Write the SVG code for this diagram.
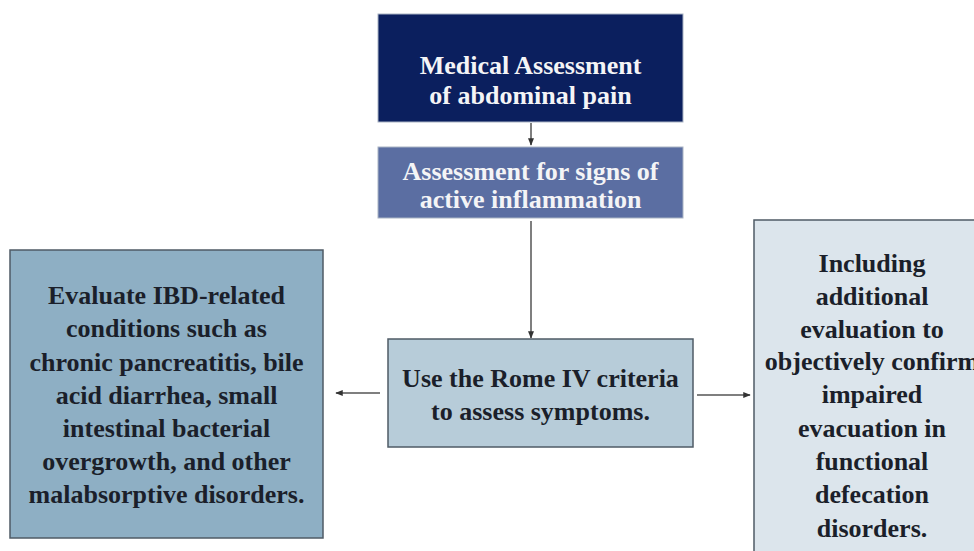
<svg xmlns="http://www.w3.org/2000/svg" width="974" height="551" viewBox="0 0 974 551">
<defs>
<style>
.t{font-family:"Liberation Serif","Times New Roman",serif;font-weight:bold;font-size:26px;text-anchor:middle}
.w{fill:#f4f4f6}
.d{fill:#1b1f2a}
.b{stroke:#4f5b66;stroke-width:1.5}
.c{stroke:#555;stroke-width:1.5;fill:none}
</style>
<marker id="ah" viewBox="0 0 10 10" refX="9" refY="5" markerWidth="5" markerHeight="5" orient="auto">
<path d="M0,1 L10,5 L0,9 Z" fill="#333"/>
</marker>
</defs>
<rect width="974" height="551" fill="#ffffff"/>
<g id="connectors">
<line class="c" x1="531" y1="123" x2="531" y2="145" marker-end="url(#ah)"/>
<line class="c" x1="531" y1="221" x2="531" y2="338" marker-end="url(#ah)"/>
<line class="c" x1="380" y1="393" x2="336" y2="393" marker-end="url(#ah)"/>
<line class="c" x1="697" y1="395" x2="750" y2="395" marker-end="url(#ah)"/>
</g>
<g id="medical">
<rect x="378" y="14" width="305" height="108" fill="#0b1f5e" stroke="#aab4c4" stroke-width="1"/>
<text class="t w" x="530.5" y="74">Medical Assessment</text>
<text class="t w" x="530.5" y="104">of abdominal pain</text>
</g>
<g id="inflammation">
<rect x="378" y="147" width="305" height="71" fill="#5b6ea2" stroke="#aab4c4" stroke-width="1"/>
<text class="t w" x="530.5" y="180">Assessment for signs of</text>
<text class="t w" x="530.5" y="208">active inflammation</text>
</g>
<g id="rome">
<rect class="b" x="388" y="339" width="305" height="108" fill="#b7ccd9"/>
<text class="t d" x="540.5" y="387">Use the Rome IV criteria</text>
<text class="t d" x="540.5" y="420">to assess symptoms.</text>
</g>
<g id="ibd">
<rect class="b" x="10" y="250" width="313" height="288" fill="#8eafc4"/>
<text class="t d" x="166.5" y="304">Evaluate IBD-related</text>
<text class="t d" x="166.5" y="337">conditions such as</text>
<text class="t d" x="166.5" y="371">chronic pancreatitis, bile</text>
<text class="t d" x="166.5" y="404">acid diarrhea, small</text>
<text class="t d" x="166.5" y="437">intestinal bacterial</text>
<text class="t d" x="166.5" y="470">overgrowth, and other</text>
<text class="t d" x="166.5" y="503">malabsorptive disorders.</text>
</g>
<g id="defecation">
<rect class="b" x="754" y="220" width="240" height="345" fill="#dce5ec"/>
<text class="t d" x="872" y="272">Including</text>
<text class="t d" x="872" y="305">additional</text>
<text class="t d" x="872" y="338">evaluation to</text>
<text class="t d" x="872" y="370">objectively confirm</text>
<text class="t d" x="872" y="403">impaired</text>
<text class="t d" x="872" y="437">evacuation in</text>
<text class="t d" x="872" y="470">functional</text>
<text class="t d" x="872" y="503">defecation</text>
<text class="t d" x="872" y="537">disorders.</text>
</g>
</svg>
